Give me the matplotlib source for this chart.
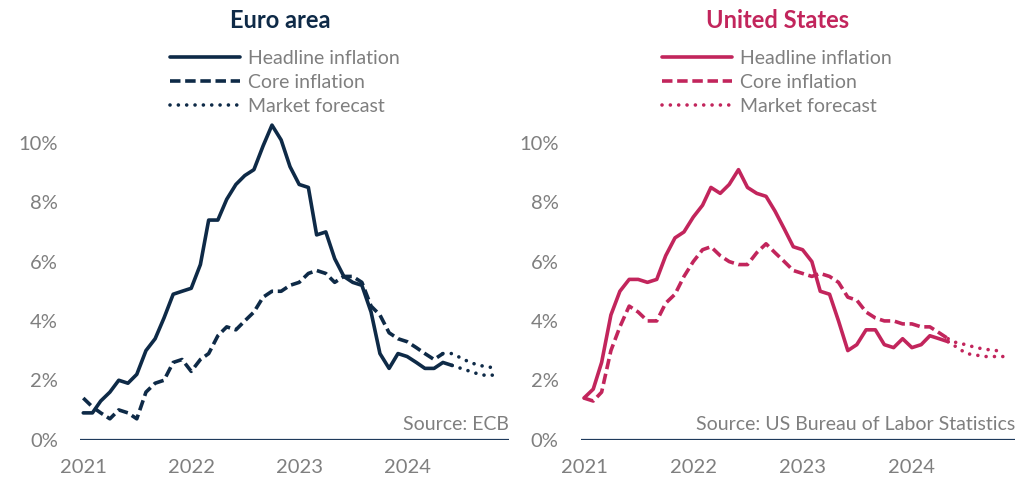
import matplotlib
matplotlib.use("Agg")
import matplotlib.pyplot as plt
import pandas as pd

plt.rcParams['font.family'] = ['Lato', 'DejaVu Sans']

# monthly dates, Jan 2021 - Dec 2024
dates = pd.date_range("2021-01-01", "2024-12-01", freq="MS")
years = [2021, 2022, 2023, 2024]

# Euro area (HICP, % y/y)
ea_headline = [0.9, 0.9, 1.3, 1.6, 2.0, 1.9, 2.2, 3.0, 3.4, 4.1, 4.9, 5.0,
               5.1, 5.9, 7.4, 7.4, 8.1, 8.6, 8.9, 9.1, 9.9, 10.6, 10.1, 9.2,
               8.6, 8.5, 6.9, 7.0, 6.1, 5.5, 5.3, 5.2, 4.3, 2.9, 2.4, 2.9,
               2.8, 2.6, 2.4, 2.4, 2.6, 2.5]
ea_core = [1.4, 1.1, 0.9, 0.7, 1.0, 0.9, 0.7, 1.6, 1.9, 2.0, 2.6, 2.7,
           2.3, 2.7, 2.9, 3.5, 3.8, 3.7, 4.0, 4.3, 4.8, 5.0, 5.0, 5.2,
           5.3, 5.6, 5.7, 5.6, 5.3, 5.5, 5.5, 5.3, 4.5, 4.2, 3.6, 3.4,
           3.3, 3.1, 2.9, 2.7, 2.9]
ea_headline_fc = [2.5, 2.4, 2.3, 2.2, 2.15, 2.2]      # Jun - Nov 2024
ea_core_fc = [2.9, 2.9, 2.75, 2.6, 2.5, 2.45, 2.4]    # May - Nov 2024

# United States (CPI, % y/y)
us_headline = [1.4, 1.7, 2.6, 4.2, 5.0, 5.4, 5.4, 5.3, 5.4, 6.2, 6.8, 7.0,
               7.5, 7.9, 8.5, 8.3, 8.6, 9.1, 8.5, 8.3, 8.2, 7.7, 7.1, 6.5,
               6.4, 6.0, 5.0, 4.9, 4.0, 3.0, 3.2, 3.7, 3.7, 3.2, 3.1, 3.4,
               3.1, 3.2, 3.5, 3.4, 3.3]
us_core = [1.4, 1.3, 1.6, 3.0, 3.8, 4.5, 4.3, 4.0, 4.0, 4.6, 4.9, 5.5,
           6.0, 6.4, 6.5, 6.2, 6.0, 5.9, 5.9, 6.3, 6.6, 6.3, 6.0, 5.7,
           5.6, 5.5, 5.6, 5.5, 5.3, 4.8, 4.7, 4.3, 4.1, 4.0, 4.0, 3.9,
           3.9, 3.8, 3.8, 3.6, 3.4]
us_headline_fc = [3.3, 3.1, 2.9, 2.85, 2.8, 2.8, 2.8]  # May - Nov 2024
us_core_fc = [3.4, 3.25, 3.2, 3.1, 3.05, 3.0, 3.0]      # May - Nov 2024

NAVY = "#0E2A47"
CRIMSON = "#C2255C"
GREY = "#7F7F7F"

fig = plt.figure(figsize=(10.31, 4.82), dpi=100)

panels = [
    dict(rect=[0.0776, 0.088, 0.416, 0.677], title="Euro area", color=NAVY,
         head=ea_headline, core=ea_core, head_fc=ea_headline_fc, core_fc=ea_core_fc,
         source="Source: ECB", title_x=280, leg_x=170),
    dict(rect=[0.5632, 0.088, 0.4212, 0.677], title="United States", color=CRIMSON,
         head=us_headline, core=us_core, head_fc=us_headline_fc, core_fc=us_core_fc,
         source="Source: US Bureau of Labor Statistics", title_x=778, leg_x=662),
]

for p in panels:
    ax = fig.add_axes(p["rect"])
    c = p["color"]
    lw = 2.6
    h0 = len(p["head"]) - 1
    c0 = len(p["core"]) - 1
    l1, = ax.plot(dates[:len(p["head"])], p["head"], color=c, lw=lw,
                  solid_joinstyle="round", solid_capstyle="round", label="Headline inflation")
    l2, = ax.plot(dates[:len(p["core"])], p["core"], color=c, lw=lw,
                  linestyle=(0, (2.9, 1.3)), label="Core inflation")
    l3, = ax.plot(dates[h0:h0 + len(p["head_fc"])], p["head_fc"], color=c, lw=lw,
                  linestyle=(0, (0.01, 2.3)), dash_capstyle="round", label="Market forecast")
    ax.plot(dates[c0:c0 + len(p["core_fc"])], p["core_fc"], color=c, lw=lw,
            linestyle=(0, (0.01, 2.3)), dash_capstyle="round")

    ax.axhline(0, color="#1F3A5C", lw=1.6, zorder=1)
    ax.set_ylim(0, 11)
    ax.set_xlim(pd.Timestamp("2020-12-21"), pd.Timestamp("2024-12-10"))
    ax.set_yticks([0, 2, 4, 6, 8, 10])
    ax.set_yticklabels([f"{v}%" for v in [0, 2, 4, 6, 8, 10]])
    ax.set_xticks([pd.Timestamp(f"{y}-01-01") for y in years])
    ax.set_xticklabels([str(y) for y in years])
    ax.tick_params(axis="y", length=0, pad=16, labelsize=14.5, labelcolor=GREY)
    ax.tick_params(axis="x", length=0, pad=14, labelsize=14.5, labelcolor=GREY)
    for s in ax.spines.values():
        s.set_visible(False)

    ax.text(1.0, 0.5, p["source"], transform=ax.get_yaxis_transform(),
            ha="right", va="center", fontsize=14, color=GREY)

    fig.text(p["title_x"] / 1031, 1 - 20 / 482, p["title"], ha="center", va="center",
             fontsize=17, fontweight="bold", color=c)

    leg = ax.legend(handles=[l1, l2, l3], loc="upper left",
                    bbox_to_anchor=(p["leg_x"] / 1031, 1 - 50 / 482),
                    bbox_transform=fig.transFigure, frameon=False, fontsize=14,
                    handlelength=3.6, handletextpad=0.4, borderpad=0, borderaxespad=0,
                    labelspacing=0.36)
    for t in leg.get_texts():
        t.set_color(GREY)

fig.savefig("out.png", dpi=100)
